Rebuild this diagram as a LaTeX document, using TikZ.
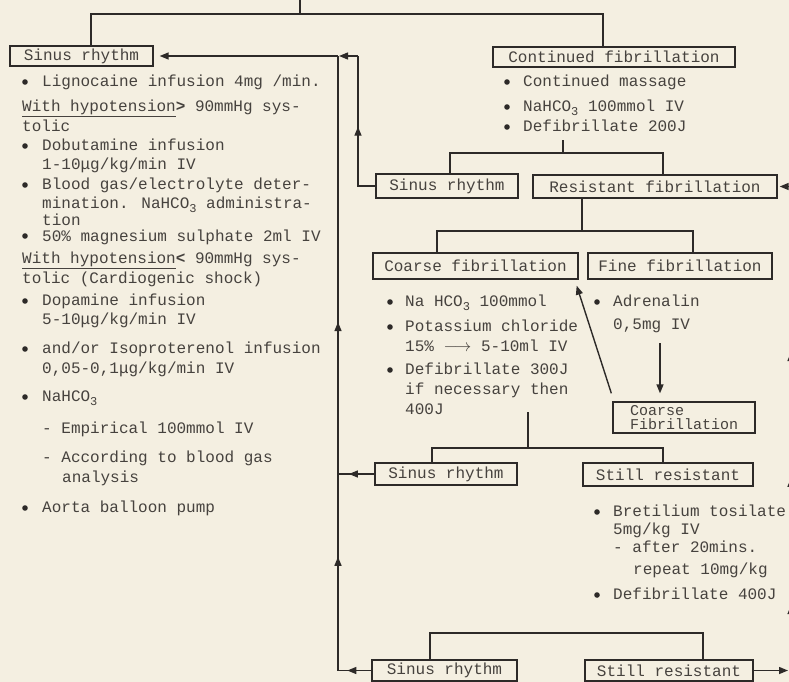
\documentclass[tikz,border=0pt]{standalone}
\usepackage{fontspec}
\setmainfont{Liberation Mono}
\setmonofont{Liberation Mono}
\usetikzlibrary{arrows.meta,decorations.markings}
\definecolor{paper}{RGB}{244,239,225}
\definecolor{ink}{RGB}{45,42,40}
\definecolor{typeink}{RGB}{70,66,62}
\newcommand\lowthree{\raisebox{-0.45ex}{\fontsize{12}{12}\selectfont 3}}
\begin{document}
\begin{tikzpicture}[x=1pt,y=-1pt,
  box/.style={draw=ink, line width=1.3pt, text=typeink, font=\fontsize{16}{19}\selectfont, inner sep=0pt},
  txt/.style={anchor=mid west, yshift=-2pt, text=typeink, font=\fontsize{16}{19}\selectfont, inner sep=0pt},
  conn/.style={draw=ink, line width=1.4pt},
  tip/.tip={Triangle[length=9pt,width=7pt]},
  arr/.style={conn, -tip},
  markone/.style={postaction={decorate,decoration={markings,
     mark=at position #1 with {\arrow{tip}}}}},
  marktwo/.style 2 args={postaction={decorate,decoration={markings,
     mark=at position #1 with {\arrow{tip}},
     mark=at position #2 with {\arrow{tip}}}}},
  markthree/.style n args={3}{postaction={decorate,decoration={markings,
     mark=at position #1 with {\arrow{tip}},
     mark=at position #2 with {\arrow{tip}},
     mark=at position #3 with {\arrow{tip}}}}},
  dot/.style={fill=ink}
]
\useasboundingbox (0,0) rectangle (789,682);
\fill[paper] (0,0) rectangle (789,682);
\clip (0,0) rectangle (789,682);

% ---------- boxes ----------
\node[box, minimum width=143, minimum height=20] (s1) at (81.5,56) {Sinus rhythm};
\node[box, minimum width=242, minimum height=20] (cf) at (614,57) {Continued fibrillation};
\node[box, minimum width=142, minimum height=24] (s2) at (447,186) {Sinus rhythm};
\node[box, minimum width=244, minimum height=23] (rf) at (655,186.5) {Resistant fibrillation};
\node[box, minimum width=205, minimum height=26] (cof) at (475.5,266) {Coarse fibrillation};
\node[box, minimum width=184, minimum height=26] (ff) at (680,266) {Fine fibrillation};
\node[box, minimum width=142, minimum height=31, align=left, font=\fontsize{15}{14}\selectfont] (cf2) at (684,417.5) {Coarse\\Fibrillation};
\node[box, minimum width=142, minimum height=22] (s3) at (446,474) {Sinus rhythm};
\node[box, minimum width=170, minimum height=23] (sr) at (668,474.5) {Still resistant};
\node[box, minimum width=145, minimum height=21] (s4) at (444.5,670.5) {Sinus rhythm};
\node[box, minimum width=168, minimum height=21] (sr2) at (669,670.5) {Still resistant};

% ---------- coordinates ----------
\coordinate (topin) at (300,0);
\coordinate (j0) at (300,14);
\coordinate (a1) at (91,14);
\coordinate (a2) at (603,14);
\coordinate (b0) at (563,140);
\coordinate (b1) at (450,153);
\coordinate (b2) at (663,153);
\coordinate (d0) at (582,198);
\coordinate (d1) at (437,231);
\coordinate (d2) at (693,231);
\coordinate (fa) at (660,343);
\coordinate (e0) at (528,412);
\coordinate (e1) at (432,448);
\coordinate (e2) at (663,448);
\coordinate (g1) at (430,633);
\coordinate (g2) at (703,633);
\coordinate (c1) at (338,56);
\coordinate (c2) at (358,56);
\coordinate (c4) at (338,670.5);
\coordinate (c5) at (791,186.5);
\coordinate (c6) at (791,670.5);

% ---------- tree connectors ----------
\draw[conn] (topin) -- (j0);
\draw[conn] (a1 |- s1.north) -- (a1) -- (a2) -- (a2 |- cf.north);
\draw[conn] (b0) -- (b0 |- b1);
\draw[conn] (b1 |- s2.north) -- (b1) -- (b2) -- (b2 |- rf.north);
\draw[conn] (d0) -- (d0 |- d1);
\draw[conn] (d1 |- cof.north) -- (d1) -- (d2) -- (d2 |- ff.north);
\draw[arr, shorten >=8pt] (fa) -- (fa |- cf2.north);
\draw[arr] ([shift={(-1pt,8pt)}]cf2.north west) -- ([shift={(-2pt,-6pt)}]cof.south east);
\draw[conn] (e0) -- (e0 |- e1);
\draw[conn] (e1 |- s3.north) -- (e1) -- (e2) -- (e2 |- sr.north);
\draw[conn] (g1 |- s4.north) -- (g1) -- (g2) -- (g2 |- sr2.north);

% ---------- feedback (left) ----------
\draw[conn, markone=0.72] (s4.west) -- (c4);
\draw[conn, marktwo={0.185}{0.567}] (c4) -- (c1);
\draw[arr, shorten >=6pt] (c1) -- (s1.east);
\draw[conn, markone=0.7] (s3.west) -- (s3.west -| c4);
\draw[conn, markone=0.52] (s2.west) -- (s2.west -| c2) -- (c2);
\draw[arr, shorten >=1pt] (c2) -- (c1);

% ---------- feedback (right, mostly off the page) ----------
\draw[conn, markthree={0.135}{0.398}{0.658}] (c6) -- (c5);
\draw[arr, shorten >=2pt] (c5) -- (rf.east);
\draw[arr, shorten >=3pt] (sr2.east) -- (c6);

% ---------- left column text ----------
\foreach \yy in {82,146,185,236,301,349,397,508} \fill[dot] (25,\yy) circle (2.8);
\node[txt] (l1) at (42,82) {Lignocaine infusion 4mg /min.};
\node[txt] (l2) at (22,107) {\underline{With hypotension}\textbf{>} 90mmHg sys-};
\node[txt] (l3) at (22,127) {tolic};
\node[txt] (l4) at (42,146) {Dobutamine infusion};
\node[txt] (l5) at (42,165) {1-10μg/kg/min IV};
\node[txt] (l6) at (42,185) {Blood gas/electrolyte deter-};
\node[txt] (l7) at (42,204) {mination. NaHCO\lowthree{} administra-};
\node[txt] (l8) at (42,221) {tion};
\node[txt] (l9) at (42,237) {50\% magnesium sulphate 2ml IV};
\node[txt] (l10) at (22,259) {\underline{With hypotension}\textbf{<} 90mmHg sys-};
\node[txt] (l11) at (22,279) {tolic (Cardiogenic shock)};
\node[txt] (l12) at (42,301) {Dopamine infusion};
\node[txt] (l13) at (42,320) {5-10μg/kg/min IV};
\node[txt] (l14) at (42,349) {and/or Isoproterenol infusion};
\node[txt] (l15) at (42,369) {0,05-0,1μg/kg/min IV};
\node[txt] (l16) at (42,397) {NaHCO\lowthree};
\node[txt] (l17) at (42,429) {- Empirical 100mmol IV};
\node[txt] (l18) at (42,458) {- According to blood gas};
\node[txt] (l19) at (62,478) {analysis};
\node[txt] (l20) at (42,508) {Aorta balloon pump};

% ---------- continued fibrillation text ----------
\foreach \yy in {82,107,127} \fill[dot] (507,\yy) circle (2.8);
\node[txt] (m1) at (523,82) {Continued massage};
\node[txt] (m2) at (523,107) {NaHCO\lowthree{} 100mmol IV};
\node[txt] (m3) at (523,127) {Defibrillate 200J};

% ---------- coarse fibrillation text ----------
\foreach \yy in {302,327,370} \fill[dot] (390,\yy) circle (2.8);
\node[txt] (n1) at (405,302) {Na HCO\lowthree{} 100mmol};
\node[txt] (n2) at (405,327) {Potassium chloride};
\node[txt] (n3) at (405,347) {15\% $\longrightarrow$ 5-10ml IV};
\node[txt] (n4) at (405,370) {Defibrillate 300J};
\node[txt] (n5) at (405,390) {if necessary then};
\node[txt] (n6) at (405,410) {400J};

% ---------- fine fibrillation text ----------
\fill[dot] (597,302) circle (2.8);
\node[txt] (p1) at (613,302) {Adrenalin};
\node[txt] (p2) at (613,325) {0,5mg IV};

% ---------- bretilium text ----------
\foreach \yy in {512,595} \fill[dot] (597,\yy) circle (2.8);
\node[txt] (q1) at (613,512) {Bretilium tosilate};
\node[txt] (q2) at (613,530) {5mg/kg IV};
\node[txt] (q3) at (613,548) {- after 20mins.};
\node[txt] (q4) at (633,570) {repeat 10mg/kg};
\node[txt] (q5) at (613,595) {Defibrillate 400J};
\end{tikzpicture}
\end{document}
